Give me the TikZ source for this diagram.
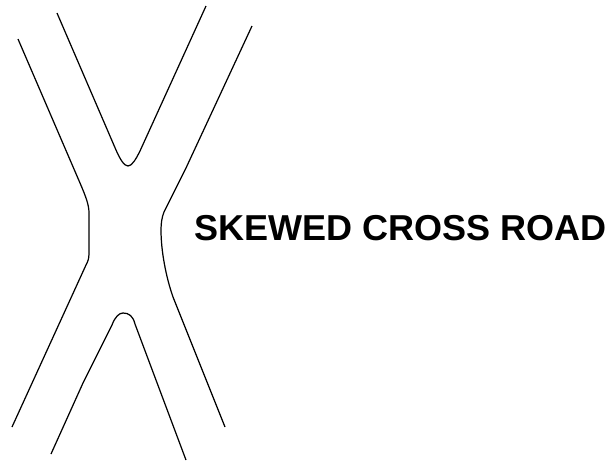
\documentclass[tikz,border=0pt]{standalone}
\usepackage{fontspec}
\setmainfont{Liberation Sans}
\usetikzlibrary{calc}

\begin{document}
\begin{tikzpicture}[line width=0.35pt]
  % Coordinates
  \coordinate (NW) at (0.18, 4.22);
  \coordinate (NWa) at (0.80, 2.78);
  \coordinate (NWb) at (0.89, 2.48);
  \coordinate (SWa) at (0.89, 2.08);
  \coordinate (SWb) at (0.86, 1.96);
  \coordinate (SW) at (0.12, 0.34);
  \coordinate (TL) at (0.57, 4.48);
  \coordinate (TLa) at (1.16, 3.11);
  \coordinate (TM) at (1.28, 2.95);
  \coordinate (TRa) at (1.40, 3.10);
  \coordinate (TR) at (2.06, 4.55);
  \coordinate (NE) at (2.52, 4.35);
  \coordinate (NEb) at (1.86, 2.93);
  \coordinate (NEa) at (1.64, 2.49);
  \coordinate (E) at (1.61, 2.31);
  \coordinate (SEa) at (1.73, 1.64);
  \coordinate (SE) at (2.25, 0.34);
  \coordinate (BL) at (0.51, 0.07);
  \coordinate (BLa) at (0.83, 0.78);
  \coordinate (BLb) at (1.12, 1.36);
  \coordinate (BM) at (1.23, 1.48);
  \coordinate (BRa) at (1.35, 1.37);
  \coordinate (BR) at (1.86, 0.01);

  % Drawing
  \useasboundingbox (0,0) rectangle (6.11,4.61);
  \draw (NW) -- (NWa) .. controls (0.86, 2.64) and (0.89, 2.56) .. (NWb) -- (SWa)
    .. controls (0.89, 2.02) and (0.88, 2.00) .. (SWb) -- (SW);
  \draw (TL) -- (TLa) .. controls (1.20, 3.02) and (1.24, 2.95) .. (TM)
    .. controls (1.32, 2.95) and (1.36, 3.02) .. (TRa) -- (TR);
  \draw (NE) -- (NEb) -- (NEa) .. controls (1.62, 2.44) and (1.61, 2.38) .. (E)
    .. controls (1.61, 2.10) and (1.66, 1.84) .. (SEa) -- (SE);
  \draw (BL) -- (BLa) -- (BLb) .. controls (1.15, 1.44) and (1.19, 1.48) .. (BM)
    .. controls (1.29, 1.48) and (1.33, 1.45) .. (BRa) -- (BR);
  \node[anchor=base west, inner sep=0pt, font=\fontsize{10.25}{12}\selectfont\bfseries] (title) at (1.94, 2.21) {SKEWED CROSS ROAD};
\end{tikzpicture}
\end{document}
